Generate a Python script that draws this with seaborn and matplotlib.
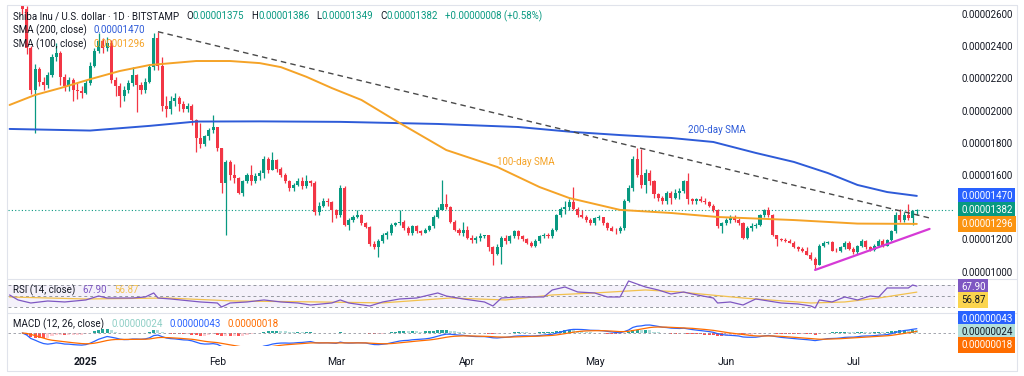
import numpy as np
import pandas as pd
import matplotlib
matplotlib.use("Agg")
import matplotlib.pyplot as plt
from matplotlib.lines import Line2D
from matplotlib.transforms import blended_transform_factory
import seaborn as sns

# ---- daily candles, Dec 17 2024 -> Jul 16 2025, prices in 1e-6 USD ----
START = "2024-12-17"
FIRST_OPEN = 27.0
CLOSE = [26.3, 23.9, 21.3, 22.6, 21.8, 21.6, 22.2, 23.3, 23.6, 22.1, 21.5, 21.9, 21.3, 21.2, 21.1,
         21.7, 22.8, 23.7, 24.3, 23.9, 24.2, 21.9, 21.5, 20.9, 21.3, 21.7, 22.2, 21.6, 21.3, 21.8,
         22.7, 24.5, 22.8, 20.3, 20.1, 20.6, 20.8, 20.4, 20.1, 20.3, 19.4, 18.3, 17.9, 18.4, 18.8,
         19.0, 17.7, 15.5, 16.8, 16.0, 15.8, 14.9, 15.6, 16.0, 15.6, 15.95, 16.1, 17.0, 16.3, 16.9,
         16.4, 16.0, 15.6, 15.2, 15.4, 15.6, 15.3, 15.6, 15.5, 13.7, 14.1, 14.4, 14.3, 13.8, 13.5,
         15.2, 12.9, 13.2, 13.4, 13.5, 13.0, 12.75, 11.7, 11.5, 11.9, 12.3, 12.4, 12.9, 13.0, 13.1,
         12.7, 12.4, 12.8, 12.5, 12.4, 12.6, 12.8, 13.4, 13.8, 14.2, 14.0, 13.1, 12.6, 12.4, 12.6,
         12.1, 11.95, 12.1, 12.2, 12.25, 11.5, 11.1, 11.5, 12.1, 11.9, 12.2, 12.5, 12.2, 12.0, 11.8,
         11.6, 11.9, 12.2, 12.3, 12.2, 12.6, 13.5, 13.9, 14.0, 14.3, 13.9, 13.5, 13.4, 13.2, 13.0,
         13.3, 13.4, 13.0, 12.7, 12.55, 12.5, 12.7, 14.4, 15.2, 17.0, 16.0, 15.4, 16.1, 15.6, 14.8,
         14.6, 14.4, 14.9, 14.6, 14.9, 15.0, 15.6, 14.5, 14.4, 14.5, 14.4, 14.3, 14.1, 13.8, 12.8,
         13.0, 13.2, 13.4, 13.2, 13.0, 12.1, 12.7, 12.8, 12.9, 13.5, 13.8, 13.5, 12.3, 12.0, 11.95,
         11.9, 11.8, 11.5, 11.4, 11.3, 11.05, 10.8, 10.4, 11.6, 11.8, 11.85, 11.3, 11.25, 11.5, 11.8,
         11.4, 11.2, 11.6, 11.9, 11.5, 11.35, 11.6, 11.9, 11.6, 11.95, 12.5, 13.5, 13.2, 13.5, 13.3,
         13.75, 13.82]
HIGH = [27.3, 26.5, 24.0, 22.9, 22.7, 22.1, 22.4, 23.5, 24.2, 23.7, 22.3, 22.1, 22.0, 21.7, 21.5,
        21.9, 23.0, 23.9, 24.8, 24.5, 24.6, 24.4, 22.1, 21.7, 21.5, 21.9, 22.7, 22.3, 21.8, 22.0,
        22.9, 24.8, 24.9, 23.3, 20.9, 20.9, 21.1, 20.9, 20.6, 20.5, 20.4, 19.5, 19.2, 18.5, 18.9,
        19.7, 19.0, 17.7, 16.9, 16.9, 16.7, 15.9, 15.7, 16.1, 16.6, 16.1, 16.3, 17.2, 17.1, 17.4,
        17.0, 16.5, 16.1, 15.7, 15.5, 15.8, 15.9, 16.0, 15.7, 15.6, 14.3, 14.6, 14.6, 14.4, 13.9,
        15.4, 15.3, 13.3, 13.5, 13.8, 13.6, 13.1, 12.8, 11.9, 12.0, 12.4, 12.5, 13.0, 13.1, 13.8,
        13.2, 12.8, 12.9, 12.9, 12.6, 12.7, 12.9, 13.5, 14.0, 15.7, 14.8, 14.1, 13.2, 12.7, 13.1,
        12.8, 12.3, 12.2, 12.4, 12.3, 12.3, 11.6, 11.7, 12.2, 12.3, 12.3, 12.6, 12.6, 12.3, 12.1,
        11.9, 12.0, 12.3, 12.4, 12.4, 12.7, 13.6, 14.0, 14.4, 14.5, 15.25, 14.0, 13.8, 13.5, 13.3,
        13.4, 13.5, 13.4, 13.1, 12.8, 12.7, 12.8, 14.5, 15.4, 17.2, 17.7, 17.6, 16.4, 16.3, 15.7,
        14.9, 14.7, 15.0, 15.0, 15.1, 15.2, 15.7, 16.1, 14.6, 14.6, 14.7, 14.6, 14.4, 14.2, 13.9,
        13.1, 13.3, 13.5, 13.5, 13.3, 13.1, 12.8, 13.0, 13.0, 13.6, 13.9, 14.0, 13.6, 12.3, 12.1,
        12.1, 12.05, 11.9, 11.6, 11.5, 11.55, 11.2, 10.9, 11.7, 11.9, 11.9, 11.9, 11.45, 11.6, 11.9,
        11.9, 11.5, 11.65, 12.0, 11.95, 11.6, 11.7, 12.0, 12.0, 12.0, 12.6, 13.7, 13.9, 13.7, 14.2,
        13.85, 13.86]
LOW = [26.0, 23.5, 21.0, 18.6, 21.5, 21.3, 21.4, 22.1, 23.1, 21.6, 21.2, 21.2, 20.6, 20.7, 20.8,
       21.0, 21.6, 22.7, 23.6, 23.6, 23.7, 21.7, 20.9, 20.2, 20.6, 21.1, 21.5, 19.9, 21.0, 21.1,
       21.7, 22.5, 22.5, 20.0, 19.6, 19.8, 20.3, 20.0, 19.9, 19.9, 19.1, 17.4, 17.7, 17.8, 18.2,
       18.6, 17.5, 14.9, 12.3, 15.7, 15.5, 14.8, 14.7, 15.5, 15.4, 15.5, 15.7, 15.8, 16.1, 16.3,
       16.2, 15.9, 15.5, 15.0, 15.0, 15.3, 15.1, 15.2, 15.3, 13.5, 13.5, 14.0, 14.1, 13.1, 13.3,
       13.4, 12.8, 12.6, 13.1, 13.3, 12.9, 12.7, 11.6, 11.4, 10.9, 11.8, 12.0, 12.3, 12.8, 12.9,
       12.6, 12.3, 12.3, 12.4, 12.3, 12.4, 12.5, 12.7, 13.3, 13.8, 13.9, 13.0, 12.5, 12.3, 12.2,
       12.0, 11.8, 11.8, 11.9, 12.1, 11.3, 10.4, 11.0, 10.5, 11.7, 11.8, 12.1, 12.0, 11.9, 11.7,
       11.5, 11.5, 11.8, 12.1, 12.1, 12.1, 12.5, 13.4, 13.6, 13.8, 13.8, 13.4, 13.3, 13.1, 12.9,
       12.9, 13.2, 12.9, 12.6, 12.5, 12.35, 12.4, 12.6, 14.3, 15.0, 15.9, 15.2, 14.9, 15.4, 14.6,
       14.4, 14.2, 14.2, 14.2, 14.5, 14.5, 14.9, 14.2, 14.2, 14.2, 14.3, 14.2, 14.0, 13.7, 12.7,
       12.4, 12.9, 13.0, 13.1, 12.9, 12.0, 12.0, 12.5, 12.7, 12.8, 13.4, 13.4, 12.2, 11.6, 11.9,
       11.85, 11.75, 11.45, 11.3, 11.2, 11.0, 10.7, 10.15, 10.4, 11.5, 11.7, 11.25, 11.2, 11.2, 11.4,
       11.35, 11.1, 11.1, 11.5, 11.4, 11.3, 11.3, 11.5, 11.55, 11.6, 11.9, 12.4, 13.1, 13.1, 13.2,
       12.9, 13.49]

SMA200_DATES = ["2024-12-14", "2025-01-02", "2025-01-16", "2025-01-27", "2025-02-11", "2025-03-02",
                "2025-03-25", "2025-04-13", "2025-04-26", "2025-05-07", "2025-05-19", "2025-05-29",
                "2025-06-08", "2025-06-17", "2025-06-25", "2025-07-02", "2025-07-09", "2025-07-16"]
SMA200 = [18.86, 18.76, 19.05, 19.32, 19.33, 19.30, 19.17, 18.98, 18.67, 18.48, 18.30, 18.05,
          17.37, 16.81, 16.12, 15.38, 14.94, 14.70]
SMA100_DATES = ["2024-12-14", "2024-12-20", "2024-12-26", "2025-01-02", "2025-01-09", "2025-01-16",
                "2025-01-27", "2025-02-04", "2025-02-11", "2025-02-16", "2025-02-22", "2025-02-28",
                "2025-03-07", "2025-03-16", "2025-03-27", "2025-04-08", "2025-04-18", "2025-04-25",
                "2025-05-07", "2025-05-19", "2025-05-30", "2025-06-17", "2025-07-02", "2025-07-16"]
SMA100 = [20.35, 20.97, 21.40, 21.95, 22.46, 22.83, 23.08, 23.08, 22.95, 22.70, 22.10, 21.40,
          20.66, 19.23, 17.55, 16.50, 15.25, 14.57, 13.83, 13.64, 13.39, 13.20, 12.98, 12.96]
TREND_DATES = ["2025-01-18", "2025-07-19"]
TREND = [24.9, 13.33]
SUPPORT_DATES = ["2025-06-22", "2025-07-19"]
SUPPORT = [10.1, 12.65]

RSI_DATES = ["2024-12-14", "2024-12-16", "2024-12-19", "2024-12-23", "2024-12-27", "2025-01-01",
             "2025-01-04", "2025-01-06", "2025-01-12", "2025-01-15", "2025-01-17", "2025-01-18",
             "2025-01-21", "2025-01-28", "2025-02-01", "2025-02-02", "2025-02-04", "2025-02-08",
             "2025-02-12", "2025-02-16", "2025-02-20", "2025-02-23", "2025-02-28", "2025-03-02",
             "2025-03-04", "2025-03-09", "2025-03-12", "2025-03-16", "2025-03-20", "2025-03-25",
             "2025-03-27", "2025-03-31", "2025-04-05", "2025-04-07", "2025-04-09", "2025-04-13",
             "2025-04-16", "2025-04-19", "2025-04-21", "2025-04-24", "2025-04-27", "2025-05-01",
             "2025-05-04", "2025-05-07", "2025-05-09", "2025-05-11", "2025-05-13", "2025-05-16",
             "2025-05-19", "2025-05-22", "2025-05-24", "2025-05-29", "2025-05-30", "2025-06-02",
             "2025-06-05", "2025-06-08", "2025-06-11", "2025-06-14", "2025-06-18", "2025-06-21",
             "2025-06-22", "2025-06-23", "2025-06-26", "2025-06-29", "2025-07-02", "2025-07-05",
             "2025-07-07", "2025-07-09", "2025-07-11", "2025-07-14", "2025-07-15", "2025-07-16"]
RSI = [51.6, 42.4, 36.8, 40.5, 38.7, 42.4, 49.7, 46.0, 46.0, 47.9, 55.3, 46.0,
       44.2, 38.7, 36.8, 29.4, 36.8, 38.7, 42.4, 38.7, 36.8, 33.1, 36.8, 42.4,
       36.8, 31.3, 38.7, 44.2, 46.0, 55.3, 49.7, 44.2, 38.7, 31.3, 46.0, 47.9,
       47.9, 47.9, 60.8, 66.3, 57.1, 55.3, 47.9, 47.9, 77.4, 71.8, 66.3, 60.8,
       53.4, 57.1, 53.4, 46.0, 36.8, 38.7, 33.1, 44.2, 40.5, 36.8, 35.0, 31.3,
       27.6, 42.4, 38.7, 47.9, 42.4, 49.7, 47.9, 64.5, 64.5, 64.5, 70.0, 67.9]
RSI_MA_DATES = ["2024-12-14", "2025-01-01", "2025-01-20", "2025-02-05", "2025-02-25", "2025-03-12",
                "2025-03-28", "2025-04-10", "2025-04-21", "2025-05-01", "2025-05-13", "2025-05-21",
                "2025-06-05", "2025-06-21", "2025-06-29", "2025-07-07", "2025-07-16"]
RSI_MA = [47.9, 44.2, 46.0, 40.5, 38.7, 37.0, 46.0, 42.4, 51.6, 55.3, 60.8, 57.1,
          46.0, 36.8, 38.7, 46.0, 56.87]

PRICE_TICKS = [10, 12, 16, 18, 20, 22, 24, 26]
MONTHS = ["2025-01-01", "2025-02-01", "2025-03-01", "2025-04-01", "2025-05-01", "2025-06-01", "2025-07-01"]
MONTH_LABELS = ["2025", "Feb", "Mar", "Apr", "May", "Jun", "Jul"]

UP, DOWN = "#089981", "#F23645"
BLUE, ORANGE = "#2E5BD8", "#F5A327"
PURPLE, YELLOW = "#7E57C2", "#F2C14E"
MBLUE, MORANGE, MTEAL = "#2962FF", "#FF6D00", "#B2DFDB"
INK, FRAME = "#131722", "#E0E3EB"

sns.set_theme(style="white")
plt.rcParams["font.family"] = ["Roboto", "DejaVu Sans"]

W, H = 1024, 376
fig = plt.figure(figsize=(W / 100, H / 100), dpi=100)
fig.patch.set_facecolor("white")


def box(top, bottom, left=8, right=955):
    return [left / W, 1 - bottom / H, (right - left) / W, (bottom - top) / H]


ax = fig.add_axes(box(5, 278))
ax_rsi = fig.add_axes(box(280, 312), sharex=ax)
ax_macd = fig.add_axes(box(313, 346), sharex=ax)

# ---- candles ----
df = pd.DataFrame({"date": pd.date_range(START, periods=len(CLOSE), freq="D"),
                   "close": CLOSE, "high": HIGH, "low": LOW})
df["open"] = [FIRST_OPEN] + CLOSE[:-1]
col = np.where(df["close"] >= df["open"], UP, DOWN)
ax.vlines(df["date"], df["low"], df["high"], colors=col, lw=0.9, zorder=2)
ax.bar(df["date"], (df["close"] - df["open"]).abs().clip(lower=0.05),
       bottom=np.minimum(df["open"], df["close"]), width=0.72, color=col, lw=0, zorder=3)

sns.lineplot(x=pd.to_datetime(SMA200_DATES), y=SMA200, ax=ax, color=BLUE, lw=1.4, zorder=4)
sns.lineplot(x=pd.to_datetime(SMA100_DATES), y=SMA100, ax=ax, color=ORANGE, lw=1.4, zorder=4)
ax.plot(pd.to_datetime(TREND_DATES), TREND, color="#4A4A4A", lw=1, ls=(0, (4, 3)), zorder=5)
ax.plot(pd.to_datetime(SUPPORT_DATES), SUPPORT, color="#D63AD6", lw=1.6, zorder=5)
ax.axhline(CLOSE[-1], color=UP, lw=0.8, ls=(0, (1, 2)), zorder=1)

ax.text(pd.Timestamp("2025-05-23"), 18.8, "200-day SMA", color=BLUE, fontsize=7, va="center")
ax.text(pd.Timestamp("2025-04-08"), 16.8, "100-day SMA", color=ORANGE, fontsize=7, va="center")

ax.set_xlim(pd.Timestamp("2024-12-13 15:00"), pd.Timestamp("2025-07-25"))
ax.set_ylim(9.6, 26.56)
ax.yaxis.tick_right()
ax.set_yticks(PRICE_TICKS)
ax.set_yticklabels([f"{v / 1e6:.8f}" for v in PRICE_TICKS])
ax.tick_params(axis="y", length=0, pad=5, labelsize=7, labelcolor=INK)
ax.tick_params(axis="x", labelbottom=False, length=0)

# ---- RSI pane ----
ax_rsi.axhspan(30, 70, color=PURPLE, alpha=0.08, lw=0)
for lv in (70, 50, 30):
    ax_rsi.axhline(lv, color="#9598A1", lw=0.7, ls=(0, (3, 3)))
sns.lineplot(x=pd.to_datetime(RSI_MA_DATES), y=RSI_MA, ax=ax_rsi, color=YELLOW, lw=0.9)
sns.lineplot(x=pd.to_datetime(RSI_DATES), y=RSI, ax=ax_rsi, color=PURPLE, lw=0.9)
ax_rsi.set_ylim(20.2, 79.2)
ax_rsi.set_yticks([])
ax_rsi.tick_params(axis="x", labelbottom=False, length=0)

# ---- MACD pane: derived from the candle closes, as the platform does ----
c = df["close"]
macd = c.ewm(span=12, adjust=False).mean() - c.ewm(span=26, adjust=False).mean()
signal = macd.ewm(span=9, adjust=False).mean()
hist = macd - signal
grow = hist.diff().fillna(0) >= 0
hcol = np.where(hist >= 0, np.where(grow, "#26A69A", MTEAL), np.where(grow, "#FFCDD2", "#FF5252"))
ax_macd.axhline(0, color="#9598A1", lw=0.6, ls=(0, (3, 3)))
ax_macd.bar(df["date"], hist, width=0.72, color=hcol, lw=0)
ax_macd.plot(df["date"], macd, color=MBLUE, lw=0.9)
ax_macd.plot(df["date"], signal, color=MORANGE, lw=0.9)
ax_macd.set_ylim(-1.3, 2.0)
ax_macd.set_yticks([])
ax_macd.set_xticks(pd.to_datetime(MONTHS))
ax_macd.set_xticklabels(MONTH_LABELS)
ax_macd.tick_params(axis="x", length=0, pad=8, labelsize=7.5, labelcolor=INK)
ax_macd.get_xticklabels()[0].set_fontweight("bold")

for a in (ax, ax_rsi, ax_macd):
    a.set_xlabel(""); a.set_ylabel("")
    for s in a.spines.values():
        s.set_visible(False)


# ---- legend lines (coloured pieces chained left to right) ----
def chain(host, x, y, pieces, size=7):
    prev = None
    for text, color, gap in pieces:
        kw = dict(va="center", ha="left", color=color, fontsize=size, zorder=8)
        if prev is None:
            prev = host.annotate(text, xy=(x, H - y), xycoords="figure pixels", **kw)
        else:
            prev = host.annotate(text, xy=(1, 0.5), xycoords=prev, xytext=(gap, 0),
                                 textcoords="offset points", **kw)


chain(ax, 13, 16, [("Shiba Inu / U.S. dollar · 1D · BITSTAMP", INK, 0), ("O", INK, 5),
                   ("0.00001375", UP, 0), ("H", INK, 5), ("0.00001386", UP, 0),
                   ("L", INK, 5), ("0.00001349", UP, 0), ("C", INK, 5), ("0.00001382", UP, 0),
                   ("+0.00000008 (+0.58%)", UP, 5)])
chain(ax, 13, 30, [("SMA (200, close)", INK, 0), ("0.00001470", BLUE, 5)])
chain(ax, 13, 44, [("SMA (100, close)", INK, 0), ("0.00001296", ORANGE, 5)])
chain(ax_rsi, 13, 290, [("RSI (14, close)", INK, 0), ("67.90", PURPLE, 5), ("56.87", YELLOW, 5)])
chain(ax_macd, 13, 324, [("MACD (12, 26, close)", INK, 0), ("0.00000024", "#8FCFC6", 5),
                         ("0.00000043", MBLUE, 5), ("0.00000018", MORANGE, 5)])

# ---- value badges on the right scale ----
bt = blended_transform_factory(fig.transFigure, ax.transData)
for val, fc in ((14.70, "#2962FF"), (13.82, UP), (12.96, "#FB9410")):
    fig.text(961 / W, val, f"{val / 1e6:.8f}", transform=bt, color="white", fontsize=7,
             va="center", ha="left", bbox=dict(boxstyle="square,pad=0.3", fc=fc, ec="none"))
for txt, ypx, fc, tc in (("67.90", 287, PURPLE, "white"), ("56.87", 300, "#FBD54E", INK),
                         ("0.00000043", 319, "#2962FF", "white"), ("0.00000024", 332, MTEAL, INK),
                         ("0.00000018", 345, MORANGE, "white")):
    fig.text(961 / W, 1 - ypx / H, txt, color=tc, fontsize=7, va="center", ha="left",
             bbox=dict(boxstyle="square,pad=0.3", fc=fc, ec="none"))

# ---- pane separators and outer frame ----
for y in (5, 279, 312.5, 371):
    fig.add_artist(Line2D([7 / W, 1017 / W], [1 - y / H] * 2, color=FRAME, lw=0.8))
for x in (7, 1017):
    fig.add_artist(Line2D([x / W] * 2, [1 - 5 / H, 1 - 371 / H], color=FRAME, lw=0.8))

fig.savefig("out.png", dpi=100, facecolor="white")
